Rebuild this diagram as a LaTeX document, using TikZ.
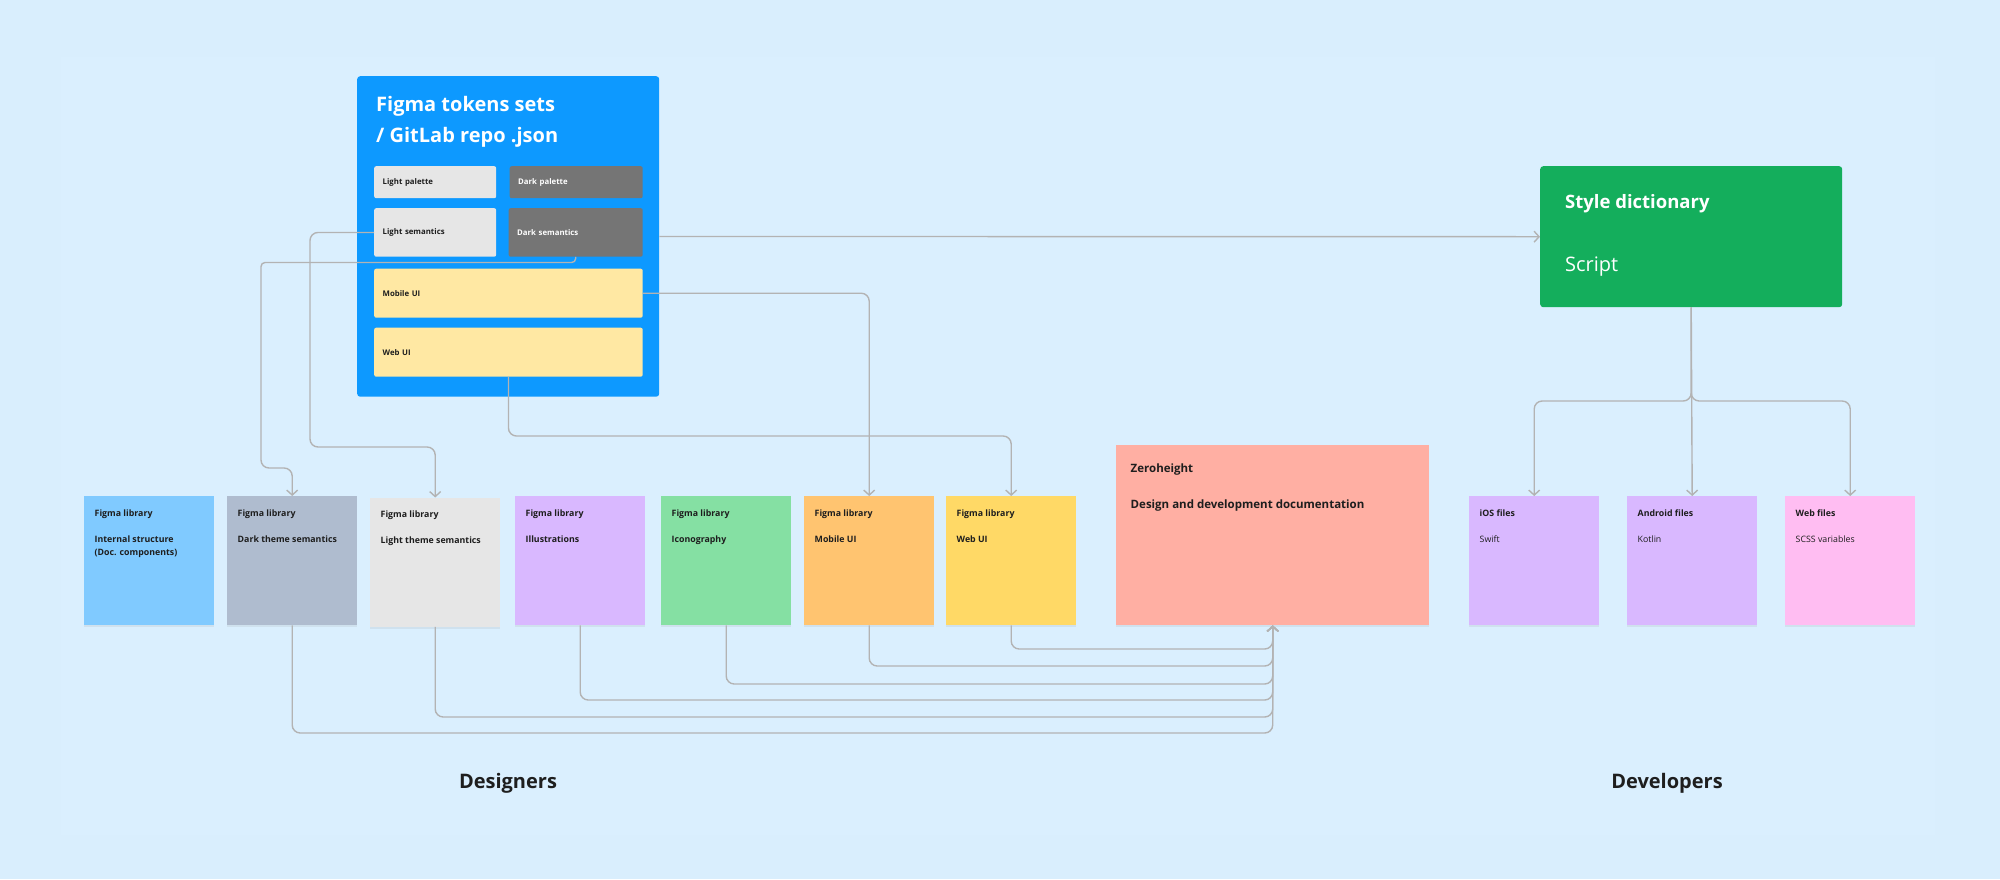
\documentclass[tikz,border=0pt]{standalone}
\usepackage{fontspec}
\setmainfont{Open Sans}
\usetikzlibrary{arrows.meta,shadows}

\definecolor{canvas}{HTML}{D9EEFD}
\definecolor{panel}{HTML}{DAEFFE}
\definecolor{figblue}{HTML}{0D99FF}
\definecolor{tokgray}{HTML}{E6E6E6}
\definecolor{tokdark}{HTML}{757575}
\definecolor{tokyellow}{HTML}{FFE8A3}
\definecolor{sdgreen}{HTML}{14AE5C}
\definecolor{libblue}{HTML}{80CAFF}
\definecolor{libslate}{HTML}{AFBCCF}
\definecolor{libviolet}{HTML}{D9B8FF}
\definecolor{libgreen}{HTML}{85E0A3}
\definecolor{liborange}{HTML}{FFC470}
\definecolor{libyellow}{HTML}{FFD966}
\definecolor{zhsalmon}{HTML}{FFAFA3}
\definecolor{devpink}{HTML}{FFBDF2}
\definecolor{wire}{HTML}{B3B3B3}
\definecolor{ink}{HTML}{1E1E1E}

\tikzset{
  token/.style={anchor=north west, inner ysep=0pt, inner xsep=8.5pt, align=left, rounded corners=2pt,
    font=\fontsize{7.8}{9}\selectfont\bfseries, text=ink},
  card/.style={anchor=north west, inner sep=0pt, minimum width=130pt, minimum height=129pt,
    drop shadow={shadow xshift=0pt, shadow yshift=-2pt, opacity=.12}},
  cardtext/.style={anchor=north west, inner sep=0pt, align=left, xshift=10.5pt, yshift=-13.5pt,
    font=\fontsize{8.8}{13}\selectfont\bfseries, text=ink},
  link/.style={draw=wire, line width=1.4pt, rounded corners=8pt},
  tip/.style={-{Straight Barb[length=5pt,width=11pt]}},
  group/.style={font=\fontsize{20}{24}\selectfont\bfseries, text=ink}
}

\begin{document}
\begin{tikzpicture}[x=1pt,y=-1pt]
\fill[canvas] (0,0) rectangle (2000,879);
\fill[panel] (61,57) rectangle (1935,835);

% token sets
\node[anchor=north west, inner sep=0pt, fill=figblue, rounded corners=3pt, minimum width=302pt, minimum height=320.5pt] (tokens) at (357,76) {};
\node[anchor=north west, inner sep=0pt, align=left, text=white, font=\fontsize{20}{31.5}\selectfont\bfseries] (tokens-t) at ([xshift=19pt,yshift=-20pt]tokens.north west) {Figma tokens sets\\/ GitLab repo .json};
\node[token, fill=tokgray, text width=105pt, minimum height=32pt] (lightpal) at (374,166) {Light palette};
\node[token, fill=tokdark, text=white, text width=116pt, minimum height=32pt] (darkpal) at (509.5,166) {Dark palette};
\node[token, fill=tokgray, text width=105pt, minimum height=48.5pt] (lightsem) at (374,208) {Light semantics};
\node[token, fill=tokdark, text=white, text width=117pt, minimum height=48.5pt] (darksem) at (508.5,208) {Dark semantics};
\node[token, fill=tokyellow, text width=251.5pt, minimum height=49pt] (mobileui) at (374,268.5) {Mobile UI};
\node[token, fill=tokyellow, text width=251.5pt, minimum height=49pt] (webui) at (374,327.5) {Web UI};

% style dictionary
\node[anchor=north west, inner sep=0pt, fill=sdgreen, rounded corners=3pt, minimum width=302pt, minimum height=141pt] (styledict) at (1540,166) {};
\node[anchor=north west, inner sep=0pt, align=left, text=white, font=\fontsize{18.5}{24}\selectfont\bfseries] (styledict-t) at ([xshift=25pt,yshift=-28pt]styledict.north west) {Style dictionary\\[39pt]{\fontsize{20}{24}\selectfont\mdseries Script}};

% figma libraries
\node[card, fill=libblue] (internal) at (84,496) {};
\node[card, fill=libslate] (darklib) at (227,496) {};
\node[card, fill=tokgray] (lightlib) at (370,497.5) {};
\node[card, fill=libviolet] (illuslib) at (515,496) {};
\node[card, fill=libgreen] (iconlib) at (661,496) {};
\node[card, fill=liborange] (mobilelib) at (804,496) {};
\node[card, fill=libyellow] (weblib) at (946,496) {};
\node[cardtext] (internal-t) at (internal.north west) {Figma library\\[13pt]Internal structure\\(Doc. components)};
\node[cardtext] (darklib-t) at (darklib.north west) {Figma library\\[13pt]Dark theme semantics};
\node[cardtext] (lightlib-t) at (lightlib.north west) {Figma library\\[13pt]Light theme semantics};
\node[cardtext] (illuslib-t) at (illuslib.north west) {Figma library\\[13pt]Illustrations};
\node[cardtext] (iconlib-t) at (iconlib.north west) {Figma library\\[13pt]Iconography};
\node[cardtext] (mobilelib-t) at (mobilelib.north west) {Figma library\\[13pt]Mobile UI};
\node[cardtext] (weblib-t) at (weblib.north west) {Figma library\\[13pt]Web UI};

% documentation
\node[card, fill=zhsalmon, minimum width=313pt, minimum height=180pt] (zeroheight) at (1116,445) {};
\node[cardtext, font=\fontsize{11.5}{14}\selectfont\bfseries, xshift=4pt, yshift=-5pt] (zeroheight-t) at (zeroheight.north west) {Zeroheight\\[22pt]Design and development documentation};

% developer files
\node[card, fill=libviolet] (iosfiles) at (1469,496) {};
\node[card, fill=libviolet] (androidfiles) at (1627,496) {};
\node[card, fill=devpink] (webfiles) at (1785,496) {};
\node[cardtext] (iosfiles-t) at (iosfiles.north west) {iOS files\\[13pt]{\mdseries Swift}};
\node[cardtext] (androidfiles-t) at (androidfiles.north west) {Android files\\[13pt]{\mdseries Kotlin}};
\node[cardtext] (webfiles-t) at (webfiles.north west) {Web files\\[13pt]{\mdseries SCSS variables}};

\node[group] (designers) at (508,783) {Designers};
\node[group] (developers) at (1667,783) {Developers};

% links
\draw[link,tip] (tokens.east) -- (styledict.west);
\draw[link,tip] (lightsem.west) -| (310,447) -| (lightlib.north);
\draw[link,tip] (darksem.south) [rounded corners=4pt] |- (261,262.5) [rounded corners=8pt] -- (261,468) -| (darklib.north);
\draw[link,tip] (mobileui.east) -| (mobilelib.north);
\draw[link,tip] (webui.south) |- ([yshift=60pt]weblib.north) -- (weblib.north);

\draw[link,tip] (styledict.south) -- (androidfiles.north);
\draw[link,tip] (styledict.south) |- ([yshift=95pt]iosfiles.north) -- (iosfiles.north);
\draw[link,tip] (styledict.south) |- ([yshift=95pt]webfiles.north) -- (webfiles.north);

\foreach \lib/\lev in {darklib/733,lightlib/717,illuslib/700,iconlib/684,mobilelib/666,weblib/649}
  \draw[link,tip] (\lib.south) |- (zeroheight.south |- 0,\lev) -- (zeroheight.south);
\end{tikzpicture}
\end{document}
